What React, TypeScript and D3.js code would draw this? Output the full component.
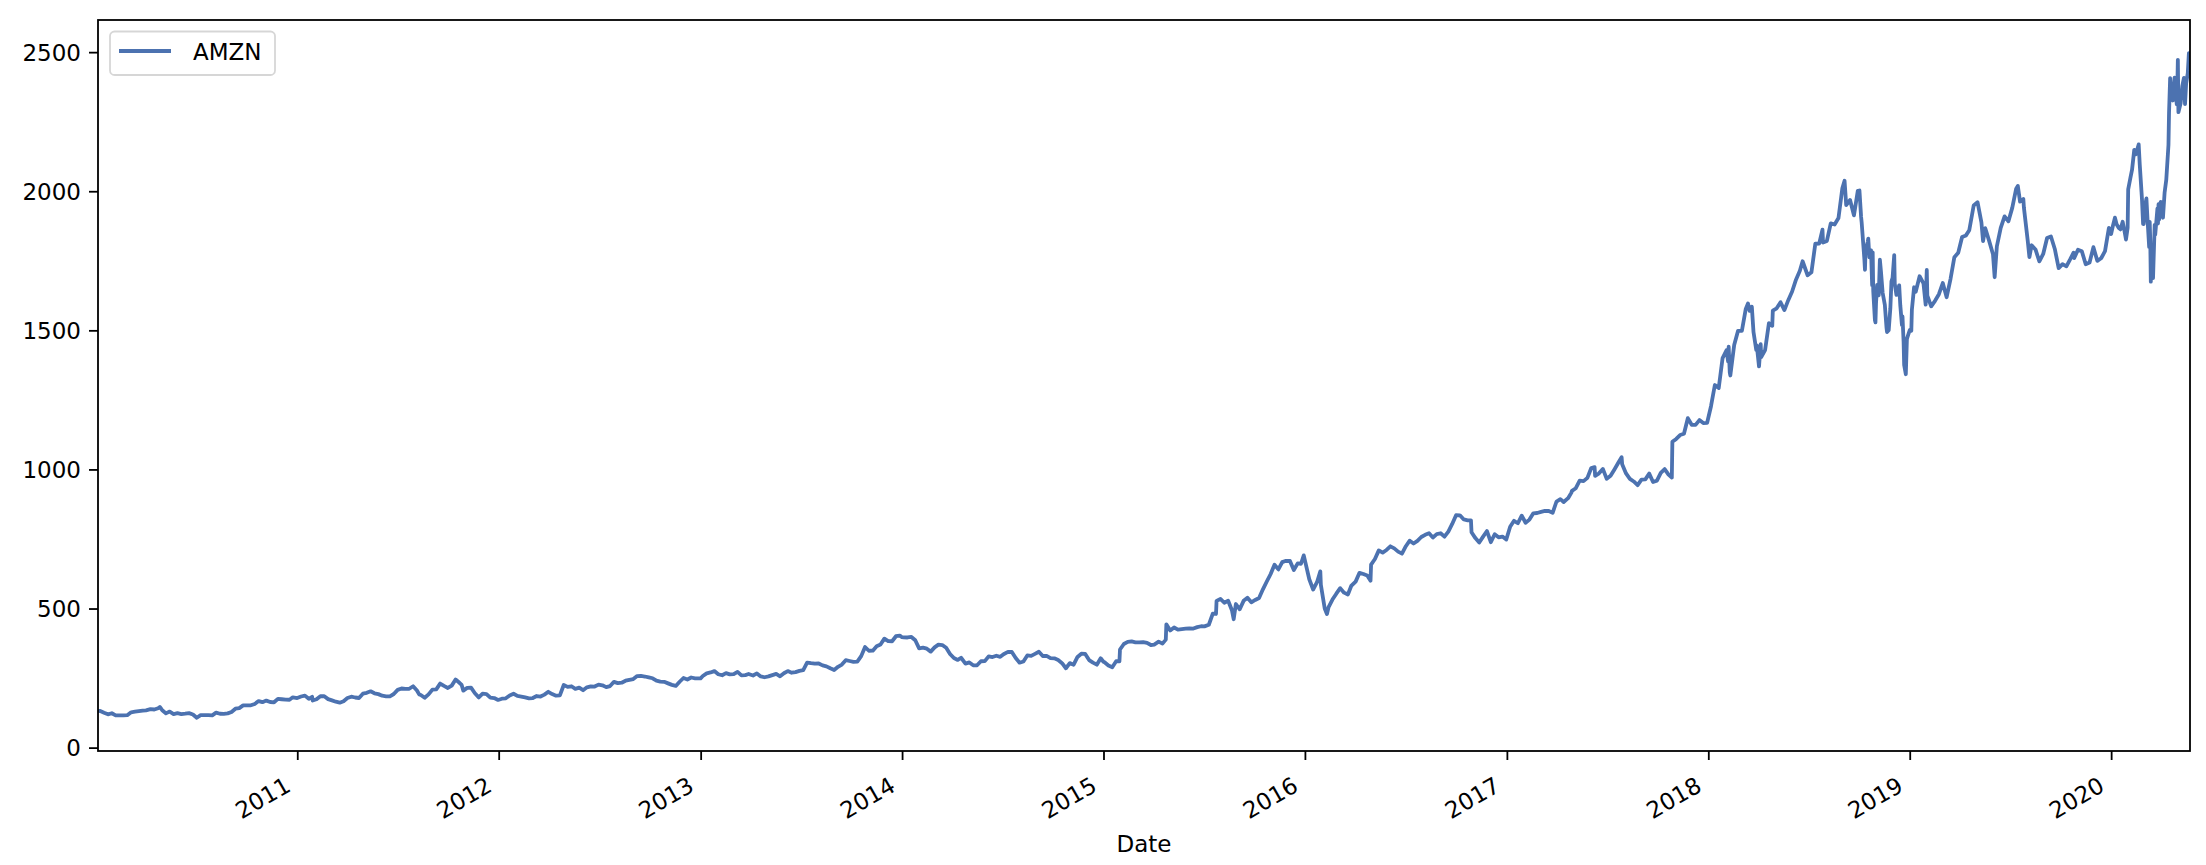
import React from "react";
import * as d3 from "d3";

// ---- data: AMZN closing prices ----
const dates: string[] = [
  "2010-01-04","2010-01-08","2010-01-15","2010-01-22","2010-01-29","2010-02-05","2010-02-12","2010-02-19","2010-02-26",
  "2010-03-05","2010-03-12","2010-03-19","2010-03-26","2010-04-01","2010-04-09","2010-04-16","2010-04-23","2010-04-26",
  "2010-04-30","2010-05-07","2010-05-14","2010-05-21","2010-05-28","2010-06-04","2010-06-11","2010-06-18","2010-06-25",
  "2010-07-02","2010-07-09","2010-07-16","2010-07-23","2010-07-30","2010-08-06","2010-08-13","2010-08-20","2010-08-27",
  "2010-09-03","2010-09-10","2010-09-17","2010-09-24","2010-10-01","2010-10-08","2010-10-15","2010-10-22","2010-10-29",
  "2010-11-05","2010-11-12","2010-11-19","2010-11-26","2010-12-03","2010-12-10","2010-12-17","2010-12-23","2010-12-31",
  "2011-01-07","2011-01-14","2011-01-21","2011-01-27","2011-01-28","2011-02-04","2011-02-11","2011-02-18","2011-02-25",
  "2011-03-04","2011-03-11","2011-03-18","2011-03-25","2011-04-01","2011-04-08","2011-04-15","2011-04-22","2011-04-29",
  "2011-05-06","2011-05-13","2011-05-20","2011-05-27","2011-06-03","2011-06-10","2011-06-17","2011-06-24","2011-07-01",
  "2011-07-08","2011-07-15","2011-07-22","2011-07-29","2011-08-05","2011-08-09","2011-08-12","2011-08-19","2011-08-26",
  "2011-09-02","2011-09-09","2011-09-16","2011-09-23","2011-09-30","2011-10-07","2011-10-14","2011-10-21","2011-10-25",
  "2011-10-28","2011-11-04","2011-11-11","2011-11-18","2011-11-25","2011-12-02","2011-12-09","2011-12-16","2011-12-23",
  "2011-12-30",
  "2012-01-06","2012-01-13","2012-01-20","2012-01-27","2012-02-03","2012-02-10","2012-02-17","2012-02-24","2012-03-02",
  "2012-03-09","2012-03-16","2012-03-23","2012-03-30","2012-04-06","2012-04-13","2012-04-20","2012-04-27","2012-05-04",
  "2012-05-11","2012-05-18","2012-05-25","2012-06-01","2012-06-08","2012-06-15","2012-06-22","2012-06-29","2012-07-06",
  "2012-07-13","2012-07-20","2012-07-27","2012-08-03","2012-08-10","2012-08-17","2012-08-24","2012-08-31","2012-09-07",
  "2012-09-14","2012-09-21","2012-09-28","2012-10-05","2012-10-12","2012-10-19","2012-10-26","2012-11-02","2012-11-09",
  "2012-11-16","2012-11-23","2012-11-30","2012-12-07","2012-12-14","2012-12-21","2012-12-31",
  "2013-01-04","2013-01-11","2013-01-18","2013-01-25","2013-02-01","2013-02-08","2013-02-15","2013-02-22","2013-03-01",
  "2013-03-08","2013-03-15","2013-03-22","2013-03-28","2013-04-05","2013-04-12","2013-04-19","2013-04-26","2013-05-03",
  "2013-05-10","2013-05-17","2013-05-24","2013-05-31","2013-06-07","2013-06-14","2013-06-21","2013-06-28","2013-07-05",
  "2013-07-12","2013-07-19","2013-07-26","2013-08-02","2013-08-09","2013-08-16","2013-08-23","2013-08-30","2013-09-06",
  "2013-09-13","2013-09-20","2013-09-27","2013-10-04","2013-10-11","2013-10-18","2013-10-25","2013-11-01","2013-11-08",
  "2013-11-15","2013-11-22","2013-11-29","2013-12-06","2013-12-13","2013-12-20","2013-12-27","2013-12-31",
  "2014-01-03","2014-01-10","2014-01-17","2014-01-24","2014-01-31","2014-02-07","2014-02-14","2014-02-21","2014-02-28",
  "2014-03-07","2014-03-14","2014-03-21","2014-03-28","2014-04-04","2014-04-11","2014-04-17","2014-04-25","2014-05-02",
  "2014-05-09","2014-05-16","2014-05-23","2014-05-30","2014-06-06","2014-06-13","2014-06-20","2014-06-27","2014-07-03",
  "2014-07-11","2014-07-18","2014-07-25","2014-08-01","2014-08-08","2014-08-15","2014-08-22","2014-08-29","2014-09-05",
  "2014-09-12","2014-09-19","2014-09-26","2014-10-03","2014-10-10","2014-10-17","2014-10-24","2014-10-31","2014-11-07",
  "2014-11-14","2014-11-21","2014-11-28","2014-12-05","2014-12-12","2014-12-19","2014-12-26","2014-12-31",
  "2015-01-02","2015-01-09","2015-01-16","2015-01-23","2015-01-29","2015-01-30","2015-02-06","2015-02-13","2015-02-20",
  "2015-02-27","2015-03-06","2015-03-13","2015-03-20","2015-03-27","2015-04-02","2015-04-10","2015-04-17","2015-04-23",
  "2015-04-24","2015-05-01","2015-05-08","2015-05-15","2015-05-22","2015-05-29","2015-06-05","2015-06-12","2015-06-19",
  "2015-06-26","2015-07-02","2015-07-10","2015-07-17","2015-07-23","2015-07-24","2015-07-31","2015-08-07","2015-08-14",
  "2015-08-21","2015-08-24","2015-08-28","2015-09-04","2015-09-11","2015-09-18","2015-09-25","2015-10-02","2015-10-09",
  "2015-10-16","2015-10-23","2015-10-30","2015-11-06","2015-11-13","2015-11-20","2015-11-27","2015-12-04","2015-12-11",
  "2015-12-18","2015-12-24","2015-12-29","2015-12-31",
  "2016-01-08","2016-01-15","2016-01-22","2016-01-28","2016-01-29","2016-02-05","2016-02-09","2016-02-12","2016-02-19",
  "2016-02-26","2016-03-04","2016-03-11","2016-03-18","2016-03-24","2016-04-01","2016-04-08","2016-04-15","2016-04-22",
  "2016-04-28","2016-04-29","2016-05-06","2016-05-13","2016-05-20","2016-05-27","2016-06-03","2016-06-10","2016-06-17",
  "2016-06-24","2016-07-01","2016-07-08","2016-07-15","2016-07-22","2016-07-29","2016-08-05","2016-08-12","2016-08-19",
  "2016-08-26","2016-09-02","2016-09-09","2016-09-16","2016-09-23","2016-09-30","2016-10-07","2016-10-14","2016-10-21",
  "2016-10-27","2016-10-28","2016-11-04","2016-11-11","2016-11-18","2016-11-25","2016-12-02","2016-12-09","2016-12-16",
  "2016-12-23","2016-12-30",
  "2017-01-06","2017-01-13","2017-01-20","2017-01-27","2017-02-03","2017-02-10","2017-02-17","2017-02-24","2017-03-03",
  "2017-03-10","2017-03-17","2017-03-24","2017-03-31","2017-04-07","2017-04-13","2017-04-21","2017-04-27","2017-04-28",
  "2017-05-05","2017-05-12","2017-05-19","2017-05-26","2017-06-02","2017-06-08","2017-06-09","2017-06-16","2017-06-23",
  "2017-06-30","2017-07-07","2017-07-14","2017-07-21","2017-07-27","2017-07-28","2017-08-04","2017-08-11","2017-08-18",
  "2017-08-25","2017-09-01","2017-09-08","2017-09-15","2017-09-22","2017-09-29","2017-10-06","2017-10-13","2017-10-20",
  "2017-10-26","2017-10-27","2017-11-03","2017-11-10","2017-11-17","2017-11-24","2017-12-01","2017-12-08","2017-12-15",
  "2017-12-22","2017-12-29",
  "2018-01-05","2018-01-12","2018-01-19","2018-01-26","2018-02-02","2018-02-05","2018-02-06","2018-02-08","2018-02-09",
  "2018-02-16","2018-02-23","2018-03-02","2018-03-09","2018-03-13","2018-03-16","2018-03-20","2018-03-23","2018-03-28",
  "2018-03-29","2018-04-02","2018-04-05","2018-04-06","2018-04-13","2018-04-20","2018-04-26","2018-04-27","2018-05-04",
  "2018-05-11","2018-05-18","2018-05-25","2018-06-01","2018-06-08","2018-06-15","2018-06-20","2018-06-29","2018-07-06",
  "2018-07-13","2018-07-20","2018-07-26","2018-07-27","2018-08-03","2018-08-10","2018-08-17","2018-08-24","2018-08-31",
  "2018-09-04","2018-09-07","2018-09-14","2018-09-21","2018-09-28","2018-10-01","2018-10-04","2018-10-05","2018-10-10",
  "2018-10-11","2018-10-12","2018-10-16","2018-10-17","2018-10-19","2018-10-22","2018-10-24","2018-10-25","2018-10-26",
  "2018-10-29","2018-10-30","2018-10-31","2018-11-02","2018-11-05","2018-11-07","2018-11-09","2018-11-12","2018-11-16",
  "2018-11-19","2018-11-20","2018-11-23","2018-11-26","2018-11-28","2018-11-30","2018-12-03","2018-12-04","2018-12-07",
  "2018-12-12","2018-12-14","2018-12-17","2018-12-18","2018-12-20","2018-12-21","2018-12-24","2018-12-26","2018-12-31",
  "2019-01-03","2019-01-04","2019-01-08","2019-01-11","2019-01-18","2019-01-25","2019-01-29","2019-01-31","2019-02-01",
  "2019-02-08","2019-02-15","2019-02-22","2019-03-01","2019-03-08","2019-03-15","2019-03-22","2019-03-29","2019-04-05",
  "2019-04-12","2019-04-18","2019-04-26","2019-05-03","2019-05-10","2019-05-13","2019-05-17","2019-05-24","2019-05-31",
  "2019-06-03","2019-06-07","2019-06-14","2019-06-21","2019-06-28","2019-07-05","2019-07-12","2019-07-15","2019-07-19",
  "2019-07-25","2019-07-26","2019-08-02","2019-08-05","2019-08-09","2019-08-16","2019-08-23","2019-08-30","2019-09-06",
  "2019-09-13","2019-09-20","2019-09-27","2019-10-04","2019-10-11","2019-10-18","2019-10-24","2019-10-25","2019-11-01",
  "2019-11-08","2019-11-15","2019-11-22","2019-11-29","2019-12-06","2019-12-13","2019-12-20","2019-12-27","2019-12-31",
  "2020-01-03","2020-01-07","2020-01-10","2020-01-14","2020-01-17","2020-01-21","2020-01-24","2020-01-27","2020-01-30",
  "2020-01-31","2020-02-04","2020-02-07","2020-02-11","2020-02-14","2020-02-19","2020-02-21","2020-02-25","2020-02-27",
  "2020-02-28","2020-03-02","2020-03-04","2020-03-06","2020-03-09","2020-03-10","2020-03-11","2020-03-12","2020-03-13",
  "2020-03-16","2020-03-19","2020-03-20","2020-03-24","2020-03-25","2020-03-26","2020-03-27","2020-03-30","2020-04-03",
  "2020-04-06","2020-04-09","2020-04-13","2020-04-14","2020-04-16","2020-04-17","2020-04-21","2020-04-24","2020-04-28",
  "2020-04-29","2020-04-30","2020-05-01","2020-05-05","2020-05-08","2020-05-11","2020-05-13","2020-05-15","2020-05-18",
  "2020-05-20","2020-05-21","2020-05-22",
];

const closes: number[] = [
  133.9,133.5,127.1,121.4,125.4,117.4,117.5,117.5,118.4,
  128.9,131.0,133.0,135.1,135.8,140.1,138.8,143.6,148.0,
  137.1,124.9,131.3,122.4,125.5,122.3,123.8,125.8,121.0,
  109.1,118.4,118.5,118.9,117.9,127.6,123.6,123.4,125.0,
  130.0,141.6,143.9,153.7,153.7,153.9,158.8,169.1,165.2,
  170.8,165.8,164.8,177.2,175.7,174.3,173.9,182.6,180.0,
  185.5,188.8,177.4,184.5,171.1,175.6,186.5,186.6,176.2,
  171.7,166.9,163.3,168.7,180.1,184.9,182.0,180.2,195.8,
  198.7,204.3,197.1,194.1,188.3,186.3,186.4,194.5,209.5,
  214.3,212.9,213.5,222.5,207.0,193.0,190.9,180.9,193.0,
  210.4,211.4,232.0,223.6,216.2,224.7,246.7,234.8,227.1,
  206.8,216.5,217.4,197.1,182.4,196.2,194.5,181.3,180.0,
  173.1,
  177.6,179.2,189.4,195.4,187.7,185.5,182.5,179.1,180.0,
  187.3,185.5,192.4,202.5,194.4,188.5,189.9,226.9,220.0,
  222.4,213.2,217.3,208.2,218.5,222.0,221.3,228.4,225.9,
  219.2,223.1,238.3,233.6,235.2,242.3,245.5,248.3,259.1,
  259.3,257.4,254.3,251.1,242.4,239.1,238.2,232.7,227.4,
  223.6,238.6,252.1,246.7,253.9,251.0,250.9,
  259.2,268.9,272.1,276.9,265.5,261.9,269.5,265.1,265.7,
  274.2,261.8,262.4,266.5,261.0,268.6,257.7,254.8,258.1,
  262.6,266.7,258.3,269.2,276.9,271.0,273.4,277.7,280.0,
  307.5,305.2,303.4,304.4,297.3,293.9,286.9,280.9,292.4,
  300.5,316.3,313.2,310.0,310.9,330.7,363.4,350.0,350.3,
  366.3,372.3,393.6,384.5,384.2,402.2,404.4,398.8,
  397.9,397.7,399.6,387.6,358.7,361.1,357.4,346.9,362.1,
  372.1,370.6,360.6,338.5,323.7,317.1,324.9,303.8,308.0,
  297.9,297.7,312.2,312.6,329.7,327.3,332.2,328.2,337.5,
  346.0,345.5,324.0,307.1,311.4,333.2,331.6,339.0,346.4,
  331.2,331.3,323.4,322.7,316.5,305.3,287.1,305.5,299.9,
  327.8,339.4,338.6,316.5,307.4,299.9,323.0,310.4,
  308.5,296.9,290.7,312.4,311.8,354.5,374.3,381.8,383.7,
  380.2,380.1,381.2,378.5,370.6,372.3,382.7,375.6,389.9,
  445.1,422.9,433.7,426.0,427.6,429.2,430.8,429.9,434.9,
  438.1,437.7,443.5,483.0,482.2,529.4,536.2,522.6,529.5,
  494.5,463.4,518.0,499.0,529.4,540.3,524.3,532.5,539.8,
  570.8,599.0,625.9,659.4,642.4,668.5,673.3,672.6,640.2,
  664.1,662.8,693.0,675.9,
  607.1,570.2,596.4,635.4,587.0,502.1,482.1,507.1,534.1,
  555.2,575.1,558.9,552.1,582.9,598.5,630.1,625.9,620.5,
  602.0,659.6,679.8,710.8,702.8,712.2,725.5,717.9,706.4,
  698.9,725.7,745.8,735.4,744.9,758.8,766.6,772.6,757.3,
  769.5,772.4,760.1,778.5,805.8,837.3,837.0,822.0,818.9,
  818.4,776.3,755.0,739.0,760.2,780.4,740.3,768.7,757.8,
  760.6,749.9,
  796.0,817.1,808.3,835.8,810.2,821.4,844.1,845.2,849.1,
  852.5,852.3,845.6,886.5,894.9,884.7,898.5,918.4,924.9,
  934.2,961.4,959.8,971.5,1006.7,1010.1,978.3,987.7,1003.7,
  968.0,978.8,1001.8,1025.7,1046.0,1020.0,987.6,968.0,958.5,
  945.3,965.3,965.9,986.8,956.7,961.4,989.6,1002.9,982.9,
  972.4,1100.9,1111.6,1125.4,1129.9,1186.0,1162.4,1162.0,1179.1,
  1168.4,1169.5,
  1229.1,1305.2,1294.6,1402.1,1430.0,1390.0,1442.8,1350.5,1339.6,
  1448.7,1500.0,1500.3,1578.9,1598.4,1571.7,1586.5,1495.6,1431.4,
  1447.3,1372.0,1451.8,1405.2,1430.8,1527.8,1517.9,1572.6,1581.0,
  1602.9,1574.4,1610.2,1641.5,1684.0,1716.0,1750.1,1699.8,1710.6,
  1813.0,1813.7,1863.6,1817.3,1823.3,1886.3,1882.2,1905.4,2012.7,
  2039.5,1952.1,1970.2,1915.0,2003.0,2004.4,1909.4,1889.7,1755.3,
  1719.4,1788.6,1819.9,1831.7,1764.0,1789.3,1664.2,1782.2,1642.8,
  1538.9,1530.4,1598.0,1665.5,1627.8,1755.5,1712.4,1636.9,1593.4,
  1512.3,1495.5,1502.1,1581.3,1677.8,1690.2,1772.4,1669.0,1629.1,
  1663.5,1591.9,1520.9,1551.5,1460.8,1377.4,1344.0,1470.9,1502.0,
  1500.3,1575.4,1656.6,1640.6,1696.2,1670.6,1593.9,1718.7,1626.2,
  1588.2,1608.0,1631.6,1671.7,1620.8,1686.2,1764.8,1780.8,1837.3,
  1843.1,1861.7,1950.6,1962.5,1890.0,1822.7,1869.0,1823.3,1775.1,
  1692.7,1804.0,1870.3,1911.3,1893.6,1942.9,2011.0,2020.9,1964.5,
  1973.8,1943.1,1823.2,1765.1,1807.6,1792.6,1749.6,1776.3,1833.5,
  1839.3,1794.2,1725.5,1739.7,1731.9,1757.5,1780.8,1761.3,1791.4,
  1785.9,1739.5,1745.7,1800.8,1751.6,1760.9,1786.5,1869.8,1847.8,
  1875.0,1906.9,1883.2,1869.4,1864.7,1892.0,1861.6,1828.3,1870.7,
  2008.7,2049.7,2079.3,2150.8,2134.9,2170.2,2096.0,1972.7,1884.3,
  1883.8,1953.9,1975.8,1901.1,1800.6,1891.8,1820.9,1676.6,1785.0,
  1689.2,1880.9,1846.1,1940.1,1885.8,1955.5,1900.1,1963.9,1906.6,
  1997.6,2042.8,2168.9,2283.3,2408.2,2375.0,2328.1,2410.2,2314.1,
  2372.7,2474.0,2286.0,2317.8,2379.6,2409.0,2315.0,2388.9,2426.3,
  2497.9,2446.7,2436.9,
];

const yTickValues = [0, 500, 1000, 1500, 2000, 2500];
const xTickYears = [2011, 2012, 2013, 2014, 2015, 2016, 2017, 2018, 2019, 2020];
const seriesName = "AMZN";
const xAxisLabel = "Date";

const W = 2206;
const H = 865;
const M = { left: 98, right: 2190, top: 20, bottom: 751 };
const FONT = "'DejaVu Sans', sans-serif";
const FS = 23;
const LINE_COLOR = "#4C72B0";

export default function App() {
  const parse = d3.utcParse("%Y-%m-%d");
  const data = dates.map((d, i) => ({ date: parse(d) as Date, v: closes[i] }));

  const x = d3
    .scaleUtc()
    .domain(d3.extent(data, (d) => d.date) as [Date, Date])
    .range([M.left, M.right]);

  const [lo, hi] = d3.extent(closes) as [number, number];
  const pad = (hi - lo) * 0.05;
  const y = d3.scaleLinear().domain([lo - pad, hi + pad]).range([M.bottom, M.top]);

  const line = d3
    .line<{ date: Date; v: number }>()
    .x((d) => x(d.date))
    .y((d) => y(d.v));

  const tickLen = 9;
  const tickPad = 8;
  const cos30 = Math.cos(Math.PI / 6);
  const lpH = 0.988 * FS;
  const desc = 0.228 * FS;

  return (
    <svg
      width={W}
      height={H}
      style={{ position: "absolute", left: 0, top: 0, background: "#fff" }}
      fontFamily={FONT}
    >
      <rect x={0} y={0} width={W} height={H} fill="#fff" />
      <defs>
        <clipPath id="plotclip">
          <rect x={M.left} y={M.top} width={M.right - M.left} height={M.bottom - M.top} />
        </clipPath>
      </defs>

      <path
        d={line(data) ?? ""}
        fill="none"
        stroke={LINE_COLOR}
        strokeWidth={3.8}
        strokeLinejoin="round"
        clipPath="url(#plotclip)"
      />

      {/* spines */}
      <rect
        x={M.left}
        y={M.top}
        width={M.right - M.left}
        height={M.bottom - M.top}
        fill="none"
        stroke="#000"
        strokeWidth={1.8}
      />

      {/* y ticks */}
      {yTickValues.map((t) => (
        <g key={"y" + t}>
          <line x1={M.left - tickLen} x2={M.left} y1={y(t)} y2={y(t)} stroke="#000" strokeWidth={1.8} />
          <text
            x={M.left - tickLen - tickPad}
            y={y(t)}
            dy="0.36em"
            textAnchor="end"
            fontSize={FS}
            fill="#000"
          >
            {t}
          </text>
        </g>
      ))}

      {/* x ticks */}
      {xTickYears.map((yr) => {
        const tx = x(new Date(Date.UTC(yr, 0, 1)));
        const py = M.bottom + tickLen + tickPad + 7 + lpH * cos30;
        const qx = tx - 3 - desc * 0.5;
        const qy = py - desc * cos30;
        return (
          <g key={"x" + yr}>
            <line x1={tx} x2={tx} y1={M.bottom} y2={M.bottom + tickLen} stroke="#000" strokeWidth={1.8} />
            <text
              x={qx}
              y={qy}
              textAnchor="end"
              fontSize={FS}
              fill="#000"
              transform={`rotate(-30 ${qx} ${qy})`}
            >
              {yr}
            </text>
          </g>
        );
      })}

      {/* x label */}
      <text x={(M.left + M.right) / 2} y={852} textAnchor="middle" fontSize={FS} fill="#000">
        {xAxisLabel}
      </text>

      {/* legend */}
      <g>
        <rect
          x={110}
          y={31.5}
          width={165}
          height={43.5}
          rx={4.6}
          ry={4.6}
          fill="#fff"
          fillOpacity={0.8}
          stroke="#ccc"
          strokeOpacity={0.8}
          strokeWidth={1.8}
        />
        <line x1={119} x2={171} y1={51} y2={51} stroke={LINE_COLOR} strokeWidth={3.8} />
        <text x={193} y={59.5} fontSize={FS} fill="#000">
          {seriesName}
        </text>
      </g>
    </svg>
  );
}
